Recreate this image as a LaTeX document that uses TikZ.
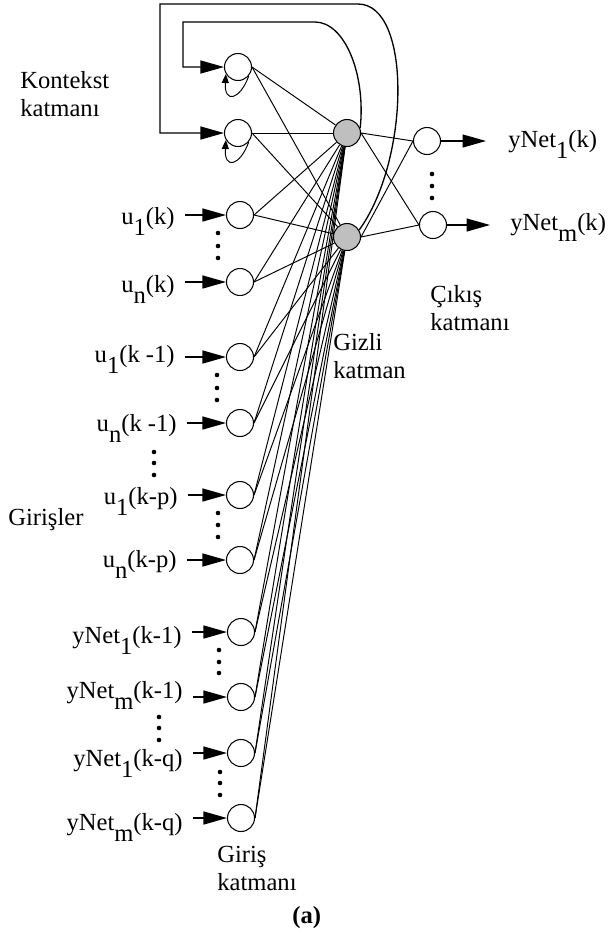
\documentclass[tikz,border=0pt]{standalone}
\usepackage{fontspec}
\setmainfont{Liberation Serif}
\usetikzlibrary{arrows.meta}

\newcommand{\lowsub}[1]{\raisebox{-0.48em}{#1}}

\tikzset{
    neuron/.style={circle, draw, line width=0.6pt, minimum size=0.54cm, inner sep=0pt},
    hiddenneuron/.style={neuron, fill=gray!50},
    link/.style={line width=0.55pt},
    arrowline/.style={line width=0.75pt, -{Triangle[length=0.47cm, width=0.26cm]}},
    inputarrow/.style={arrowline, shorten <=0.2cm},
    selfarrow/.style={line width=0.55pt, -{Triangle[length=0.18cm, width=0.14cm]}},
    lbl/.style={inner sep=0pt}
}

\begin{document}
\begin{tikzpicture}[x=0.02cm, y=-0.02cm, font=\fontsize{14}{16}\selectfont]
        \useasboundingbox (0, 0) rectangle (609, 938);

        % Kontekst katmani
        \node[neuron] (c1) at (238, 67) {};
        \node[neuron] (c2) at (238, 133) {};
        \node[lbl, anchor=north west, align=left] (kontekst) at (20, 71) {Kontekst\\katmanı};

        % Giris katmani
        \node[neuron] (u1k) at (240, 215) {};
        \node[neuron] (unk) at (240, 282) {};
        \node[neuron] (u1k1) at (240, 357) {};
        \node[neuron] (unk1) at (240, 423) {};
        \node[neuron] (u1kp) at (240, 495) {};
        \node[neuron] (unkp) at (240, 560) {};
        \node[neuron] (y1k1) at (241, 632) {};
        \node[neuron] (ymk1) at (241, 697) {};
        \node[neuron] (y1kq) at (241, 753) {};
        \node[neuron] (ymkq) at (241, 818) {};
        \node[lbl, anchor=north west, align=left] (giris) at (217, 846) {Giriş\\katmanı};

        % Gizli katman
        \node[hiddenneuron] (h1) at (347, 133) {};
        \node[hiddenneuron] (h2) at (347, 237) {};
        \node[lbl, anchor=north west, align=left] (gizli) at (333, 333) {Gizli\\katman};

        % Cikis katmani
        \node[neuron] (o1) at (427, 141) {};
        \node[neuron] (o2) at (433, 225) {};
        \node[lbl, anchor=north west, align=left] (cikis) at (430, 285) {Çıkış\\katmanı};

        % Input labels
        \node[lbl, anchor=base east] (lu1k) at (175, 224) {u\lowsub{1}(k)};
        \node[lbl, anchor=base east] (lunk) at (175, 292) {u\lowsub{n}(k)};
        \node[lbl, anchor=base east] (lu1k1) at (175, 362) {u\lowsub{1}(k -1)};
        \node[lbl, anchor=base east] (lunk1) at (177, 431) {u\lowsub{n}(k -1)};
        \node[lbl, anchor=base east] (lu1kp) at (178, 504) {u\lowsub{1}(k-p)};
        \node[lbl, anchor=base east] (lunkp) at (177, 567) {u\lowsub{n}(k-p)};
        \node[lbl, anchor=base east] (ly1k1) at (182, 643) {yNet\lowsub{1}(k-1)};
        \node[lbl, anchor=base east] (lymk1) at (183, 698) {yNet\lowsub{m}(k-1)};
        \node[lbl, anchor=base east] (ly1kq) at (183, 766) {yNet\lowsub{1}(k-q)};
        \node[lbl, anchor=base east] (lymkq) at (183, 830) {yNet\lowsub{m}(k-q)};
        \node[lbl, anchor=base west] (girisler) at (8, 525) {Girişler};

        % Input arrows
        \draw[inputarrow] (lu1k.east |- u1k) -- (u1k);
        \draw[inputarrow] (lunk.east |- unk) -- (unk);
        \draw[inputarrow] (lu1k1.east |- u1k1) -- (u1k1);
        \draw[inputarrow] (lunk1.east |- unk1) -- (unk1);
        \draw[inputarrow] (lu1kp.east |- u1kp) -- (u1kp);
        \draw[inputarrow] (lunkp.east |- unkp) -- (unkp);
        \draw[inputarrow] (ly1k1.east |- y1k1) -- (y1k1);
        \draw[inputarrow] (lymk1.east |- ymk1) -- (ymk1);
        \draw[inputarrow] (ly1kq.east |- y1kq) -- (y1kq);
        \draw[inputarrow] (lymkq.east |- ymkq) -- (ymkq);

        % Dots
        \foreach \y in {233, 246, 258} \fill (218, \y) circle[radius=1.3pt];
        \foreach \y in {375, 388, 400} \fill (217, \y) circle[radius=1.3pt];
        \foreach \y in {452, 463, 475} \fill (154, \y) circle[radius=1.3pt];
        \foreach \y in {513, 525, 537} \fill (218, \y) circle[radius=1.3pt];
        \foreach \y in {650, 662, 673} \fill (219, \y) circle[radius=1.3pt];
        \foreach \y in {717, 728, 740} \fill (159, \y) circle[radius=1.3pt];
        \foreach \y in {772, 783, 795} \fill (220, \y) circle[radius=1.3pt];
        \foreach \y in {174, 186, 198} \fill (432, \y) circle[radius=1.3pt];

        % Input to hidden
        \draw[link] (c1.east) -- (h1);
        \draw[link] (c1.east) -- (h2);
        \draw[link] (c2.east) -- (h1);
        \draw[link] (c2.east) -- (h2);
        \draw[link] (u1k.east) -- (h1);
        \draw[link] (u1k.east) -- (h2);
        \draw[link] (unk.east) -- (h1);
        \draw[link] (unk.east) -- (h2);
        \draw[link] (u1k1.east) -- (h1);
        \draw[link] (u1k1.east) -- (h2);
        \draw[link] (unk1.east) -- (h1);
        \draw[link] (unk1.east) -- (h2);
        \draw[link] (u1kp.east) -- (h1);
        \draw[link] (u1kp.east) -- (h2);
        \draw[link] (unkp.east) -- (h1);
        \draw[link] (unkp.east) -- (h2);
        \draw[link] (y1k1.east) -- (h1);
        \draw[link] (y1k1.east) -- (h2);
        \draw[link] (ymk1.east) -- (h1);
        \draw[link] (ymk1.east) -- (h2);
        \draw[link] (y1kq.east) -- (h1);
        \draw[link] (y1kq.east) -- (h2);
        \draw[link] (ymkq.east) -- (h1);
        \draw[link] (ymkq.east) -- (h2);

        % Hidden to output
        \draw[link] (h1.east) -- (o1.west);
        \draw[link] (h1.east) -- (o2.west);
        \draw[link] (h2.east) -- (o1.west);
        \draw[link] (h2.east) -- (o2.west);

        % Outputs
        \coordinate (y1end) at (486, 141);
        \coordinate (ymend) at (490, 225);
        \draw[arrowline] (o1) -- (y1end);
        \draw[arrowline] (o2) -- (ymend);
        \node[lbl, anchor=base west] (ly1k) at (508, 147) {yNet\lowsub{1}(k)};
        \node[lbl, anchor=base west] (lymk) at (510, 230) {yNet\lowsub{m}(k)};

        % Feedback to context
        \draw[arrowline] (h1.20) .. controls (366, 75) and (345, 22) .. (315, 22) -- (183, 22) |- (c1);
        \draw[arrowline] (h2.30) .. controls (410, 160) and (412, 4) .. (358, 4) -- (160, 4) |- (c2);
        \draw[selfarrow] (c1.-40) .. controls (240, 100) and (224, 104) .. (c1.-150);
        \draw[selfarrow] (c2.-40) .. controls (240, 166) and (224, 170) .. (c2.-150);

        \node[lbl, anchor=base west] (caption) at (292, 923) {\textbf{(a)}};
    \end{tikzpicture}
\end{document}
